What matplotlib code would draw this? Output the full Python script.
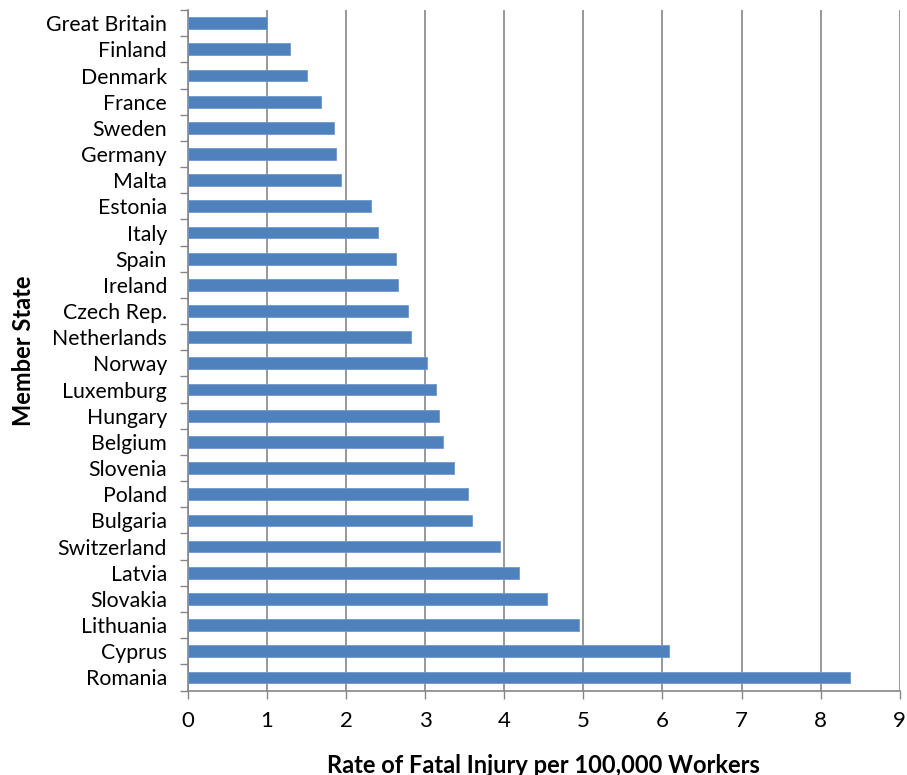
import numpy as np
import matplotlib.pyplot as plt

# member states, top to bottom as shown
countries = ['Great Britain', 'Finland', 'Denmark', 'France', 'Sweden', 'Germany',
             'Malta', 'Estonia', 'Italy', 'Spain', 'Ireland', 'Czech Rep.',
             'Netherlands', 'Norway', 'Luxemburg', 'Hungary', 'Belgium', 'Slovenia',
             'Poland', 'Bulgaria', 'Switzerland', 'Latvia', 'Slovakia', 'Lithuania',
             'Cyprus', 'Romania']
rates = [1.00, 1.29, 1.51, 1.69, 1.85, 1.88, 1.94, 2.32, 2.40, 2.63, 2.66, 2.78,
         2.82, 3.03, 3.14, 3.18, 3.23, 3.37, 3.54, 3.59, 3.95, 4.19, 4.54, 4.94,
         6.08, 8.37]
xticks = list(range(0, 10))

plt.rcParams['font.family'] = ['Lato', 'DejaVu Sans']

fig = plt.figure(figsize=(9.07, 7.75), dpi=100)
ax = fig.add_axes([0.207, 0.109, 0.785, 0.878])

y = np.arange(len(countries))
ax.barh(y, rates, height=0.45, color='#4F81BD', edgecolor='#6E98CF', linewidth=0.6, zorder=3)
ax.set_ylim(len(countries) - 0.5, -0.5)
ax.set_xlim(0, 9)

ax.set_yticks(y)
ax.set_yticklabels(countries, fontsize=15.3)
ax.set_yticks(np.arange(-0.5, len(countries)), minor=True)
ax.tick_params(axis='y', which='major', length=0, pad=15)
ax.tick_params(axis='y', which='minor', length=6, width=1, color='#868686', direction='out')

ax.set_xticks(xticks)
ax.set_xticklabels([str(v) for v in xticks], fontsize=16)
ax.tick_params(axis='x', length=6, width=1, color='#868686', direction='out', pad=9)

ax.grid(axis='x', color='#868686', linewidth=1.2, zorder=0)
for s in ['top', 'right']:
    ax.spines[s].set_visible(False)
for s in ['left', 'bottom']:
    ax.spines[s].set_color('#868686')
    ax.spines[s].set_linewidth(1.2)

ax.set_xlabel('Rate of Fatal Injury per 100,000 Workers', fontsize=17,
              fontweight='bold', labelpad=16)
ax.set_ylabel('Member State', fontsize=17, fontweight='bold', labelpad=8)

fig.savefig('out.png', dpi=100)
